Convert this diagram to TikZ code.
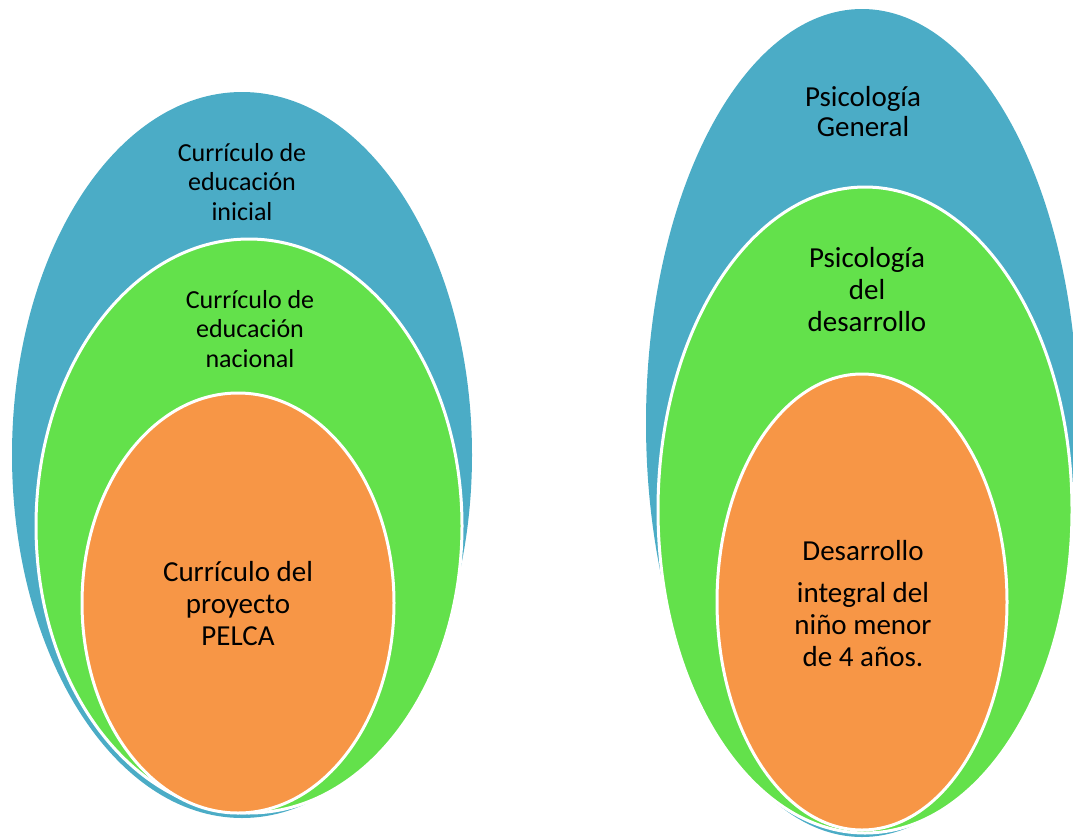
\documentclass[tikz,border=0pt]{standalone}
\usepackage{fontspec}
\setmainfont{Carlito}
\usetikzlibrary{shapes.geometric}
\usetikzlibrary{positioning}

\definecolor{ringblue}{HTML}{4BACC6}
\definecolor{ringgreen}{HTML}{63E14B}
\definecolor{ringorange}{HTML}{F79646}

\begin{document}
\begin{tikzpicture}[x=1pt,y=-1pt,
        ring/.style={ellipse,inner sep=0pt,outer sep=0pt,draw=white,line width=3pt},
        lbl/.style={align=center,font=\fontsize{26}{29.5}\selectfont},
        lblbig/.style={align=center,font=\fontsize{29}{32}\selectfont}]

            %\draw [help lines] (0,0) grid (1073,838);
            \useasboundingbox (0,0) rectangle (1073,838);
            \clip (0,0) rectangle (1073,838);

            % curriculo
            \path   (242,455) node (ia) [ring,draw=none,fill=ringblue,minimum width=460pt,minimum height=726pt] {}
                    (249,526) node (na) [ring,fill=ringgreen,minimum width=426pt,minimum height=574pt] {}
                    (238,603) node (pa) [ring,fill=ringorange,minimum width=312pt,minimum height=420pt] {};

            % psicologia
            \path   (862,423) node (gb) [ring,draw=none,fill=ringblue,minimum width=432pt,minimum height=828pt] {}
                    (865,510) node (db) [ring,fill=ringgreen,minimum width=414pt,minimum height=646pt] {}
                    (862,602) node (nb) [ring,fill=ringorange,minimum width=290pt,minimum height=456pt] {};

            \path   (242,182) node (tia) [lbl] {Currículo de\\educación\\inicial}
                    (250,329) node (tna) [lbl] {Currículo de\\educación\\nacional}
                    (238,604) node (tpa) [lblbig] {Currículo del\\proyecto\\PELCA}
                    (863,112) node (tgb) [lblbig,font=\fontsize{29}{30}\selectfont] {Psicología\\General}
                    (867,290) node (tdb) [lblbig] {Psicología\\del\\desarrollo}
                    (863,604) node (tnb) [lblbig] {Desarrollo\\[10pt]integral del\\niño menor\\de 4 años.};

\end{tikzpicture}
\end{document}
